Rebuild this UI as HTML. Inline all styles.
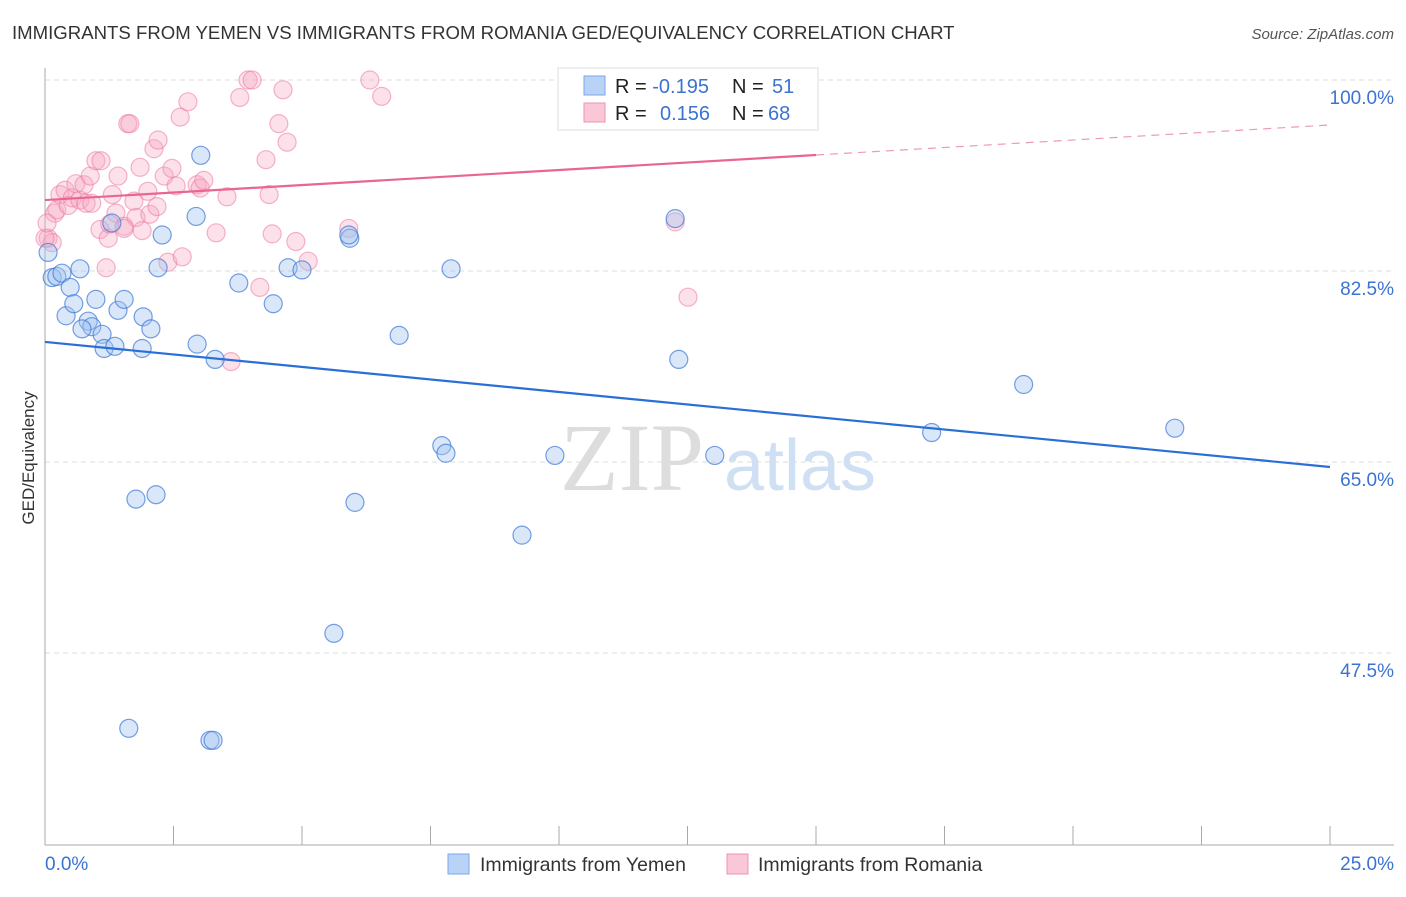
<!DOCTYPE html>
<html><head><meta charset="utf-8"><style>
body{margin:0;background:#fff;font-family:"Liberation Sans",sans-serif;}
</style></head><body>
<svg id="chart" width="1406" height="892" xmlns="http://www.w3.org/2000/svg" font-family="Liberation Sans, sans-serif">
<text x="12" y="39" font-size="18.6" fill="#333">IMMIGRANTS FROM YEMEN VS IMMIGRANTS FROM ROMANIA GED/EQUIVALENCY CORRELATION CHART</text>
<text x="1394" y="39" font-size="15" fill="#555" text-anchor="end" font-style="italic">Source: ZipAtlas.com</text>
<g id="watermark">
<text x="632" y="490" font-size="96" fill="#ddd" text-anchor="middle" font-family="Liberation Serif, serif">ZIP</text>
<text x="800" y="490" font-size="72" fill="#cfe0f5" text-anchor="middle">atlas</text>
</g>
<g id="grid"></g><g id="axes"></g><g id="marks"></g>
<text transform="translate(34,458) rotate(-90)" font-size="17" fill="#333" text-anchor="middle">GED/Equivalency</text>
<text x="45" y="870" font-size="19" fill="#3b73d1">0.0%</text>
<text x="1394" y="870" font-size="19" fill="#3b73d1" text-anchor="end">25.0%</text>
<g>
<rect x="558" y="68" width="260" height="62" fill="#fff" stroke="#ddd"/>
<rect x="584" y="76" width="21" height="19" fill="#b8d3f5" stroke="#7aa7e6"/>
<rect x="584" y="103" width="21" height="19" fill="#f9c7d6" stroke="#ee93b0"/>
<text x="615" y="93" font-size="20" fill="#222">R = <tspan fill="#3b73d1">-0.195</tspan><tspan x="732">N = </tspan><tspan x="772" fill="#3b73d1">51</tspan></text>
<text x="615" y="120" font-size="20" fill="#222">R = <tspan x="660" fill="#3b73d1">0.156</tspan><tspan x="732">N = </tspan><tspan x="768" fill="#3b73d1">68</tspan></text>
</g>
<g>
<rect x="448" y="854" width="21" height="20" fill="#b8d3f5" stroke="#7aa7e6"/>
<text x="480" y="871" font-size="19.5" fill="#333">Immigrants from Yemen</text>
<rect x="727" y="854" width="21" height="20" fill="#f9c7d6" stroke="#ee93b0"/>
<text x="758" y="871" font-size="19.5" fill="#333">Immigrants from Romania</text>
</g>
</svg>
<script>
const yTicks=[100,82.5,65,47.5];
const yTickLabels=["100.0%","82.5%","65.0%","47.5%"];
const xTicks=[0,2.5,5,7.5,10,12.5,15,17.5,20,22.5,25];
const yemenX=[0.14,0.23,0.33,0.06,0.68,0.49,0.41,0.56,0.99,0.84,0.91,0.72,1.11,1.15,1.36,1.42,1.54,1.91,2.06,1.89,1.30,2.28,2.2,3.03,2.94,2.96,3.31,3.77,4.44,4.73,5.0,5.93,5.91,7.9,6.89,12.26,12.33,7.72,7.8,9.92,13.03,17.25,19.04,21.98,1.77,2.16,6.03,9.28,5.62,1.63,3.21,3.27];
const yemenY=[81.9,82.0,82.3,84.2,82.7,81.0,78.4,79.5,79.9,77.9,77.4,77.2,76.7,75.4,75.6,78.9,79.9,78.3,77.2,75.4,86.9,85.8,82.8,93.1,87.5,75.8,74.4,81.4,79.5,82.8,82.6,85.5,85.8,82.7,76.6,87.3,74.4,66.5,65.8,65.6,65.6,67.7,72.1,68.1,61.6,62.0,61.3,58.3,49.3,40.6,39.5,39.5];
const romaniaX=[0.06,0.14,0.19,0.23,0.29,0.39,0.45,0.53,0.6,0.68,0.8,0.91,0.76,0.88,0.99,1.09,1.07,1.19,1.23,1.31,1.38,1.42,1.54,1.61,1.65,1.73,1.77,1.85,2.0,2.04,2.12,2.2,2.18,2.32,2.47,2.39,2.55,2.63,2.67,2.78,2.96,3.02,3.09,3.33,3.54,3.79,3.95,4.03,4.18,4.3,4.36,4.42,4.55,4.63,4.71,4.88,5.12,5.91,6.32,6.55,3.62,12.26,12.51,0.0,0.04,1.89,1.54,1.26];
const romaniaY=[85.5,85.1,87.8,88.1,89.5,89.9,88.5,89.2,90.5,89.0,88.7,88.7,90.4,91.2,92.6,92.6,86.3,82.8,85.5,89.5,87.8,91.2,86.6,96.0,96.0,88.9,87.4,92.0,89.8,87.7,93.7,94.5,88.4,91.2,91.9,83.3,90.3,96.6,83.8,98.0,90.4,90.1,90.8,86.0,89.3,98.4,100,100,81.0,92.7,89.5,85.9,96.0,99.1,94.3,85.2,83.4,86.4,100,98.5,74.2,87.0,80.1,85.5,86.9,86.2,86.4,86.8];
const yemenTrend=[76.0,64.54];
const romaniaTrend=[89.0,95.88];
const NS="http://www.w3.org/2000/svg";
function xs(v){return 45+v*(1330-45)/25;}
function ys(v){return 80+(100-v)*191/17.5;}
function mk(t,a,p){const e=document.createElementNS(NS,t);for(const k in a)e.setAttribute(k,a[k]);p.appendChild(e);return e;}
const grid=document.getElementById('grid'),axes=document.getElementById('axes'),marks=document.getElementById('marks');
yTicks.forEach((v,i)=>{
 const l=mk('line',{x1:45,x2:1394,y1:ys(v),y2:ys(v),stroke:'#ddd','stroke-dasharray':'5,4'},grid);
 
 
 const t=mk('text',{x:1394,y:ys(v)+24,'font-size':19,fill:'#3b73d1','text-anchor':'end'},axes);
 t.textContent=yTickLabels[i];
 
 
});
const ax=mk('line',{x1:45,x2:45,y1:68,y2:845,stroke:'#aaa'},axes);


const bx=mk('line',{x1:45,x2:1394,y1:845,y2:845,stroke:'#aaa'},axes);


xTicks.forEach(v=>{
 const t=mk('line',{x1:xs(v),x2:xs(v),y1:826,y2:845,stroke:'#aaa'},axes);
 
 
});
romaniaX.forEach((v,i)=>{
 const c=mk('circle',{cx:xs(v),cy:ys(romaniaY[i]),r:9,fill:'rgba(246,170,195,0.35)',stroke:'rgba(236,120,160,0.55)','stroke-width':1.2},marks);
 
 
});
yemenX.forEach((v,i)=>{
 const c=mk('circle',{cx:xs(v),cy:ys(yemenY[i]),r:9,fill:'rgba(160,195,240,0.4)',stroke:'rgba(60,120,215,0.7)','stroke-width':1.2},marks);
 
 
});
const yt=mk('line',{x1:xs(0),y1:ys(yemenTrend[0]),x2:xs(25),y2:ys(yemenTrend[1]),stroke:'#2a6fd6','stroke-width':2.2},marks);


const pm=romaniaTrend[0]+(romaniaTrend[1]-romaniaTrend[0])*15/25;
const rt=mk('line',{x1:xs(0),y1:ys(romaniaTrend[0]),x2:xs(15),y2:ys(pm),stroke:'#e8668f','stroke-width':2.2},marks);


const rd=mk('line',{x1:xs(15),y1:ys(pm),x2:xs(25),y2:ys(romaniaTrend[1]),stroke:'#ee9ab5','stroke-width':1.2,'stroke-dasharray':'8,6'},marks);


</script>
</body></html>
